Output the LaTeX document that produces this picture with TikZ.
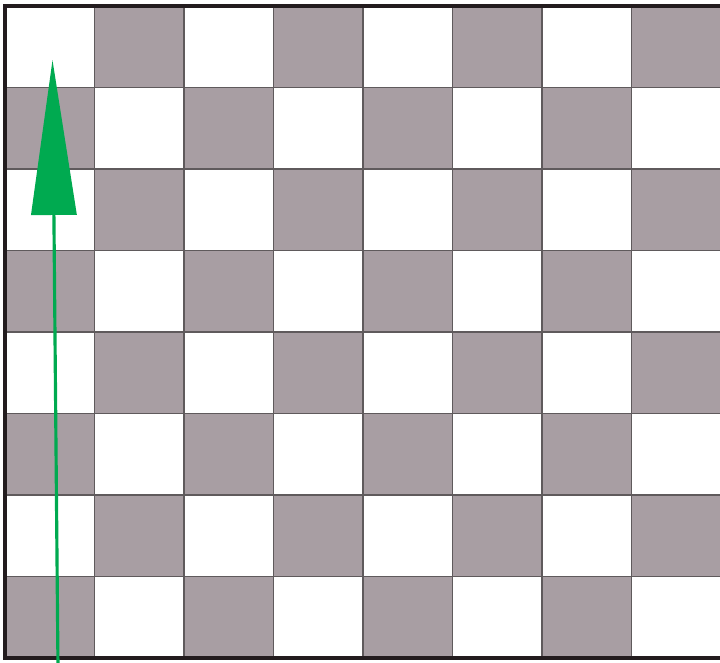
\documentclass[tikz,border=0pt]{standalone}
\usetikzlibrary{arrows.meta}
\begin{document}
\begin{tikzpicture}[
		thick,
		every node/.style={font=\small}
	]
		\definecolor{MauNen}{RGB}{255,255,255}
		\definecolor{MauO}{RGB}{168,158,163}
		\definecolor{MauLuoi}{RGB}{95,90,92}
		\definecolor{MauVien}{RGB}{35,28,30}
		\definecolor{MauMuiTen}{RGB}{0,170,80}
		\useasboundingbox (0,0) rectangle (14.4,13.26);
		\fill[MauNen] (0,0) rectangle (14.4,13.26);
		\foreach \i in {0,...,7}
			\foreach \j in {0,...,7}{
				\pgfmathtruncatemacro{\chan}{mod(\i+\j,2)}
				\ifnum\chan=1
					\fill[MauO] (0.1+1.79*\i,13.14-1.63*\j)
						rectangle ++(1.79,-1.63);
				\fi
			}
		\foreach \i in {1,...,7}{
			\draw[MauLuoi,line width=0.6pt]
				(0.1+1.79*\i,0.1) -- (0.1+1.79*\i,13.14);
			\draw[MauLuoi,line width=0.6pt]
				(0.1,13.14-1.63*\i) -- (14.42,13.14-1.63*\i);
		}
		\draw[MauVien,line width=2.2pt]
			(14.6,13.14) -- (0.1,13.14) -- (0.1,0.1) -- (14.6,0.1);
		\coordinate (duoi) at (1.16,-0.1);
		\coordinate (dinh) at (1.05,12.06);
		\draw[MauMuiTen,line width=1.8pt,
			-{Triangle[length=3.1cm,width=0.9cm]}]
			(duoi) -- (dinh);
	\end{tikzpicture}
\end{document}
